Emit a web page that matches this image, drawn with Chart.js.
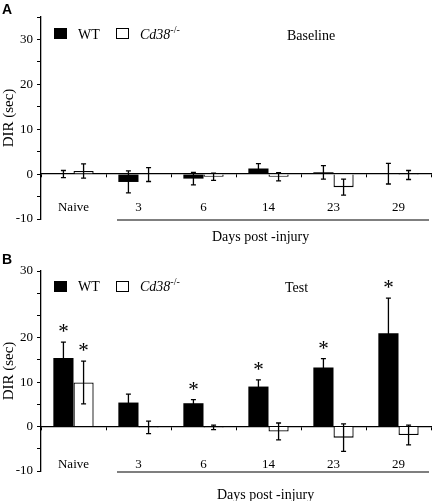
<!DOCTYPE html>
<html>
<head>
<meta charset="utf-8">
<script src="https://cdn.jsdelivr.net/npm/chart.js@4.4.1/dist/chart.umd.min.js"></script>
<style>
  body { margin: 0; background: #fff; font-family: "Liberation Serif", serif; color: #000; }
  .panel { position: relative; width: 433px; }
  .panel canvas { position: absolute; left: 0; top: 0; }
  .txt { position: absolute; white-space: nowrap; line-height: 1; }
  .letter { font-family: "Liberation Sans", Arial, sans-serif; font-weight: bold; font-size: 14px; }
  .box { position: absolute; width: 13px; height: 11px; box-sizing: border-box; border: 1.3px solid #000; }
  .leg { font-size: 14px; }
  .sup { position: relative; top: -6px; font-size: 10px; line-height: 0; }
  .days { font-size: 14px; }
</style>
</head>
<body>
<div class="panel" id="panelA" style="height:250px">
  <canvas id="chartA"></canvas>
  <div class="txt letter" style="left:2px;top:2px">A</div>
  <div class="box" style="left:54px;top:28px;background:#000"></div>
  <div class="txt leg" style="left:78px;top:28px">WT</div>
  <div class="box" style="left:116px;top:28px;background:#fff"></div>
  <div class="txt leg" style="left:140px;top:28px"><i>Cd38</i><span class="sup">-/-</span></div>
  <div class="txt leg" style="left:287px;top:29px">Baseline</div>
  <div class="txt days" style="left:212px;top:230px">Days post -injury</div>
</div>
<div class="panel" id="panelB" style="height:251px">
  <canvas id="chartB"></canvas>
  <div class="txt letter" style="left:2px;top:2px">B</div>
  <div class="box" style="left:54px;top:31px;background:#000"></div>
  <div class="txt leg" style="left:78px;top:30px">WT</div>
  <div class="box" style="left:116px;top:31px;background:#fff"></div>
  <div class="txt leg" style="left:140px;top:30px"><i>Cd38</i><span class="sup">-/-</span></div>
  <div class="txt leg" style="left:285px;top:31px">Test</div>
  <div class="txt days" style="left:217px;top:238px">Days post -injury</div>
</div>
<script>
// categories on the x axis
const categories = ['Naive', '3', '6', '14', '23', '29'];

// panel A - baseline
const baseWT = [0.0, -1.75, -1.0, 1.25, 0.4, 0.1];
const baseWTErr = [0.8, 2.45, 1.4, 1.1, 1.5, 2.3];
const baseKO = [0.7, -0.1, -0.6, -0.6, -2.9, -0.2];
const baseKOErr = [1.6, 1.55, 0.8, 0.9, 1.8, 1.0];

// panel B - test
const testWT = [15.4, 5.4, 5.25, 9.0, 13.3, 21.0];
const testWTErr = [3.6, 1.9, 0.8, 1.5, 2.0, 7.9];
const testKO = [9.9, -0.2, -0.2, -1.1, -2.5, -1.9];
const testKOErr = [4.8, 1.4, 0.5, 1.9, 3.1, 2.2];

// significance marks (*)
const noSig = [0, 0, 0, 0, 0, 0];
const testSigWT = [1, 0, 1, 1, 1, 1];
const testSigKO = [1, 0, 0, 0, 0, 0];

// y tick labels, one per 5-unit tick from -10 to 35
const yLabelsA = ['-10', '', '0', '', '10', '', '20', '', '30', ''];
const yLabelsB = ['-10', '', '0', '', '10', '', '20', '', '', '30'];

const serif = '"Liberation Serif", "Times New Roman", serif';

// error bars, asterisks and the "days" underline
const extrasPlugin = {
  id: 'extras',
  afterDatasetsDraw(chart) {
    const ctx = chart.ctx;
    const y = chart.scales.y;
    const x = chart.scales.x;
    ctx.save();
    ctx.strokeStyle = '#000';
    ctx.fillStyle = '#000';
    ctx.lineWidth = 1.3;
    chart.data.datasets.forEach((ds, i) => {
      const meta = chart.getDatasetMeta(i);
      meta.data.forEach((bar, j) => {
        const v = ds.data[j], e = ds.errors[j];
        const top = y.getPixelForValue(v + e);
        const bot = y.getPixelForValue(v - e);
        const cx = bar.x;
        ctx.beginPath();
        ctx.moveTo(cx, top); ctx.lineTo(cx, bot);
        ctx.moveTo(cx - 2.5, top); ctx.lineTo(cx + 2.5, top);
        ctx.moveTo(cx - 2.5, bot); ctx.lineTo(cx + 2.5, bot);
        ctx.stroke();
        if (ds.sig[j]) {
          ctx.font = '21px ' + serif;
          ctx.textAlign = 'center';
          ctx.textBaseline = 'alphabetic';
          ctx.fillText('*', cx, top - 4);
        }
      });
    });
    // underline for days post-injury
    const step = x.getPixelForValue(1) - x.getPixelForValue(0);
    const ly = y.getPixelForValue(-10) + 1;
    ctx.beginPath();
    ctx.lineWidth = 1.2;
    ctx.moveTo(x.getPixelForValue(1) - step / 2 + 11, ly);
    ctx.lineTo(chart.chartArea.right - 2, ly);
    ctx.stroke();
    ctx.restore();
  }
};

function makePanel(id, wt, wtErr, ko, koErr, sigWT, sigKO, yLabels, pad, labelPad) {
  return new Chart(document.getElementById(id), {
    type: 'bar',
    data: {
      labels: categories,
      datasets: [
        { label: 'WT', data: wt, errors: wtErr, sig: sigWT, backgroundColor: '#000', borderWidth: 0 },
        { label: 'Cd38-/-', data: ko, errors: koErr, sig: sigKO, backgroundColor: '#fff',
          borderColor: '#000', borderWidth: 1.3 }
      ]
    },
    options: {
      responsive: true,
      maintainAspectRatio: false,
      animation: false,
      layout: { padding: pad },
      categoryPercentage: 0.62,
      barPercentage: 1.0,
      plugins: { legend: { display: false }, tooltip: { enabled: false } },
      scales: {
        x: {
          position: { y: 0 },
          offset: true,
          z: 1,
          border: { display: true, color: '#000', width: 1.3 },
          grid: { display: true, offset: true, drawOnChartArea: false, drawTicks: true, tickLength: 3, color: '#000' },
          ticks: { color: '#000', font: { family: serif, size: 13 }, padding: labelPad, maxRotation: 0 }
        },
        y: {
          min: -10,
          max: 35,
          afterFit: (scale) => { scale.width = 41; },
          border: { display: true, color: '#000', width: 1.3 },
          grid: { display: true, drawOnChartArea: false, drawTicks: true, tickLength: 4, color: '#000' },
          ticks: {
            stepSize: 5, autoSkip: false, color: '#000', padding: 4,
            font: { family: serif, size: 13 },
            callback: (value, index) => yLabels[index]
          },
          title: { display: true, text: 'DIR (sec)', color: '#000', font: { family: serif, size: 15 }, padding: 0 }
        }
      }
    },
    plugins: [extrasPlugin]
  });
}

makePanel('chartA', baseWT, baseWTErr, baseKO, baseKOErr, noSig, noSig, yLabelsA,
  { left: 0, top: 17, right: 2, bottom: 31 }, 23);
makePanel('chartB', testWT, testWTErr, testKO, testKOErr, testSigWT, testSigKO, yLabelsB,
  { left: 0, top: 21, right: 2, bottom: 30 }, 27);
</script>
</body>
</html>
